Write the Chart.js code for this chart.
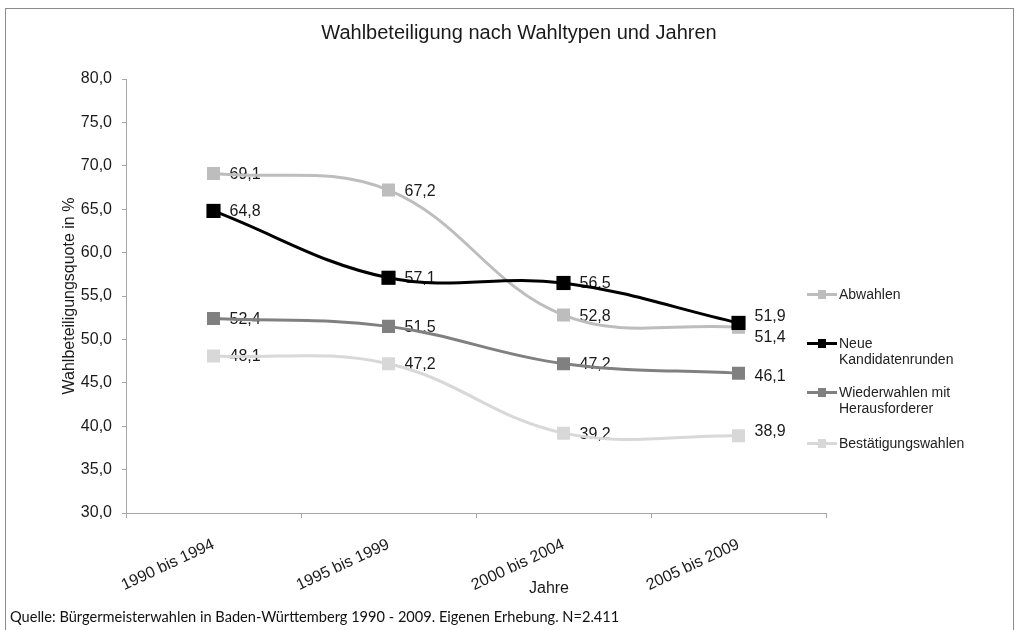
<!DOCTYPE html>
<html>
<head>
<meta charset="utf-8">
<script src="https://cdn.jsdelivr.net/npm/chart.js@4.4.1/dist/chart.umd.min.js"></script>
<style>
    body { margin: 0; background: #fff; font-family: "Liberation Sans", Arial, sans-serif; }
    #wrap { position: relative; width: 1024px; height: 630px; overflow: hidden; }
    #frame { position: absolute; left: 5px; top: 8px; width: 1009px; height: 640px; border: 1px solid #8c8c8c; box-sizing: border-box; }
    #chart { position: absolute; left: 0; top: 0; }
    #title { position: absolute; left: 0; width: 1038px; top: 21px; text-align: center; font-size: 20px; color: #1a1a1a; }
    #xtitle { position: absolute; left: 449px; width: 200px; top: 579px; text-align: center; font-size: 16px; color: #1a1a1a; }
    #legend { position: absolute; left: 807px; top: 286px; font-size: 14px; color: #222; line-height: 16.5px; }
    .item { position: relative; padding-left: 32px; }
    .item .ln { position: absolute; left: 0; top: 7px; width: 30px; height: 3px; }
    .item .sq { position: absolute; left: 11px; top: 4px; width: 8px; height: 9px; }
    #source { position: absolute; left: 10px; top: 608px; font-family: Lato, "Open Sans", sans-serif; font-size: 14.6px; color: #111; }
</style>
</head>
<body>
<div id="wrap">
    <div id="frame"></div>
    <canvas id="chart" width="1024" height="630"></canvas>
    <div id="title">Wahlbeteiligung nach Wahltypen und Jahren</div>
    <div id="xtitle">Jahre</div>
    <div id="legend"></div>
    <div id="source">Quelle: Bürgermeisterwahlen in Baden-Württemberg 1990 - 2009. Eigenen Erhebung. N=2.411</div>
</div>
<script>
const categories = ['1990 bis 1994', '1995 bis 1999', '2000 bis 2004', '2005 bis 2009'];
const seriesNames = ['Abwahlen', 'Neue Kandidatenrunden', 'Wiederwahlen mit Herausforderer', 'Bestätigungswahlen'];
const abwahlen = [69.1, 67.2, 52.8, 51.4];
const neueKandidaten = [64.8, 57.1, 56.5, 51.9];
const wiederwahlen = [52.4, 51.5, 47.2, 46.1];
const bestaetigung = [48.1, 47.2, 39.2, 38.9];
const yTicks = [30, 35, 40, 45, 50, 55, 60, 65, 70, 75, 80];

const colors = ['#bdbdbd', '#000000', '#808080', '#d8d8d8'];
// legend lines wrap like in the original
const legendText = ['Abwahlen', 'Neue<br>Kandidatenrunden', 'Wiederwahlen mit<br>Herausforderer', 'Bestätigungswahlen'];
const legendGap = [32, 16, 18];

// small vertical shifts of the value labels at the last category (px)
const labelShift = { '0-3': 9, '1-3': -7, '2-3': 2, '3-3': -5 };

function fmt(v) {
    return v.toFixed(1).replace('.', ',');
}

const valueLabels = {
    id: 'valueLabels',
    beforeDatasetsDraw(chart) {
        const ctx = chart.ctx;
        ctx.save();
        ctx.font = '16px "Liberation Sans", Arial, sans-serif';
        ctx.fillStyle = '#1a1a1a';
        ctx.textBaseline = 'middle';
        ctx.textAlign = 'left';
        chart.data.datasets.forEach((ds, i) => {
            const meta = chart.getDatasetMeta(i);
            meta.data.forEach((pt, j) => {
                const dy = labelShift[i + '-' + j] || 0;
                ctx.fillText(fmt(ds.data[j]), pt.x + 16, pt.y + dy + 1);
            });
        });
        ctx.restore();
    }
};

const allSeries = [abwahlen, neueKandidaten, wiederwahlen, bestaetigung];

const datasets = allSeries.map((vals, i) => ({
    label: seriesNames[i],
    data: vals,
    borderColor: colors[i],
    backgroundColor: colors[i],
    pointBackgroundColor: colors[i],
    pointBorderColor: colors[i],
    borderWidth: 3,
    pointStyle: 'rect',
    pointRadius: i === 1 ? 10 : 9.2,
    pointBorderWidth: 0,
    tension: 0.38,
    order: i === 1 ? 0 : 1 + i,
    fill: false
}));

const ctx = document.getElementById('chart').getContext('2d');
const chart = new Chart(ctx, {
    type: 'line',
    data: {
        labels: categories,
        datasets: datasets
    },
    options: {
        responsive: false,
        animation: false,
        layout: {
            padding: { top: 79, left: 0, right: 198, bottom: 32 }
        },
        plugins: {
            legend: { display: false },
            title: { display: false },
            tooltip: { enabled: false }
        },
        scales: {
            x: {
                offset: true,
                afterFit: (scale) => { scale.height = 85; },
                border: { color: '#a6a6a6', width: 1 },
                grid: {
                    offset: true,
                    drawOnChartArea: false,
                    tickLength: 5,
                    color: '#a6a6a6'
                },
                ticks: {
                    minRotation: 25,
                    maxRotation: 25,
                    color: '#1a1a1a',
                    padding: 17,
                    font: { family: '"Liberation Sans", Arial, sans-serif', size: 16 }
                }
            },
            y: {
                min: 30,
                max: 80,
                afterFit: (scale) => { scale.width = 126; },
                afterBuildTicks: (scale) => {
                    scale.ticks = yTicks.map(v => ({ value: v }));
                },
                border: { color: '#a6a6a6', width: 1 },
                grid: {
                    drawOnChartArea: false,
                    tickLength: 4,
                    color: '#a6a6a6'
                },
                ticks: {
                    color: '#1a1a1a',
                    padding: 10,
                    callback: (v) => fmt(v),
                    font: { family: '"Liberation Sans", Arial, sans-serif', size: 16 }
                },
                title: {
                    display: true,
                    text: 'Wahlbeteiligungsquote in %',
                    color: '#1a1a1a',
                    padding: { top: 60, bottom: 0 },
                    font: { family: '"Liberation Sans", Arial, sans-serif', size: 16 }
                }
            }
        }
    },
    plugins: [valueLabels]
});

// html legend to the right of the plot
const legend = document.getElementById('legend');
legendText.forEach((txt, i) => {
    const item = document.createElement('div');
    item.className = 'item';
    if (i > 0) item.style.marginTop = legendGap[i - 1] + 'px';
    item.innerHTML = '<span class="ln" style="background:' + colors[i] + '"></span>' +
        '<span class="sq" style="background:' + colors[i] + '"></span>' + txt;
    legend.appendChild(item);
});
</script>
</body>
</html>
